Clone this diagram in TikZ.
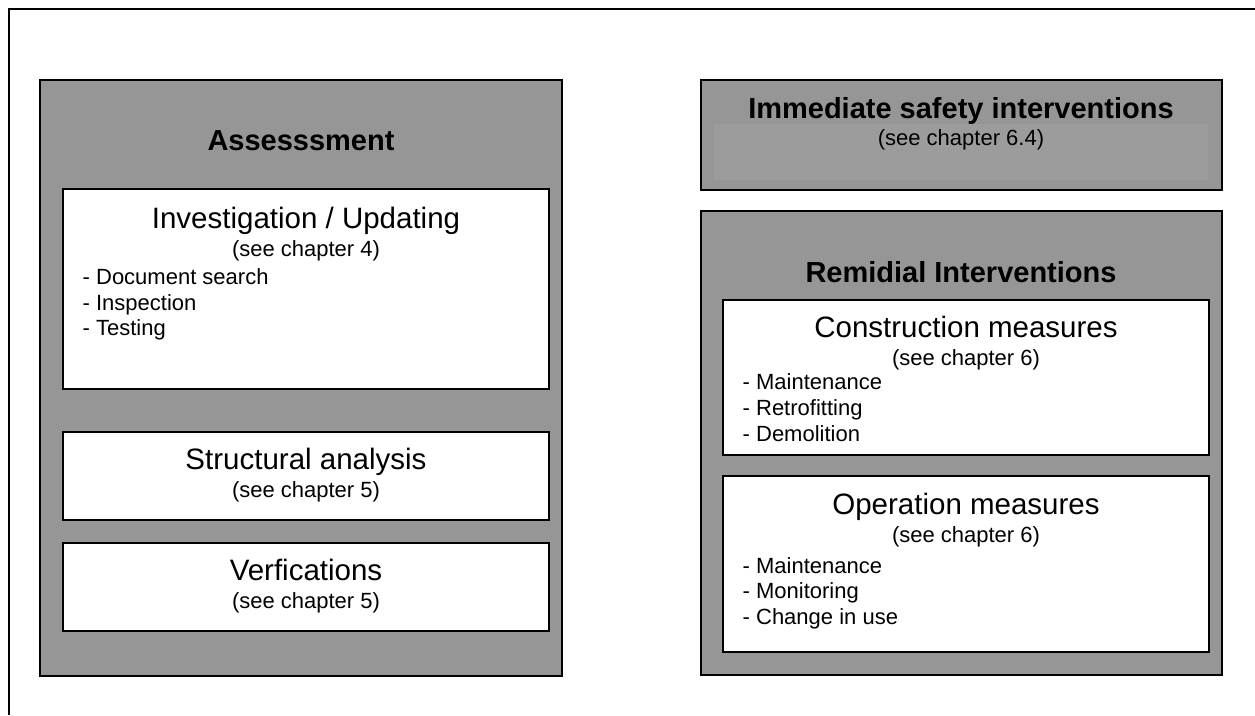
\documentclass[tikz,border=0pt]{standalone}
\usepackage{fontspec}
\setmainfont{Liberation Sans}
\begin{document}
\begin{tikzpicture}[x=1pt,y=-1pt,line width=1.4pt,
  graybox/.style={draw=black,fill=black!41},
  whitebox/.style={draw=black,fill=white},
  head/.style={font=\fontsize{29}{34}\selectfont\bfseries,anchor=base,inner sep=0pt},
  title/.style={font=\fontsize{29.5}{34}\selectfont,anchor=base,inner sep=0pt},
  sub/.style={font=\fontsize{22}{26}\selectfont,anchor=base,inner sep=0pt},
  item/.style={font=\fontsize{22}{26}\selectfont,anchor=base west,inner sep=0pt}]
  \useasboundingbox(0,0)rectangle(1255,715);
  \draw[line width=2.4pt](9,715)--(9,9)--(1255,9);
  % left column
  \coordinate(A1)at(40,80);
  \coordinate(A2)at(562,676);
  \draw[graybox](A1)rectangle(A2);
  \node[head](assess)at(301,150){Assesssment};
  \draw[whitebox](63,189)rectangle(549,389);
  \node[title](inv)at(306,228){Investigation / Updating};
  \node[sub](invsub)at(306,256){(see chapter 4)};
  \node[item](inv1)at(82,284){- Document search};
  \node[item](inv2)at(82,310){- Inspection};
  \node[item](inv3)at(82,335){- Testing};
  \draw[whitebox](63,432)rectangle(549,520);
  \node[title](struct)at(306,469){Structural analysis};
  \node[sub](structsub)at(306,497){(see chapter 5)};
  \draw[whitebox](63,543)rectangle(549,631);
  \node[title](verif)at(306,580){Verfications};
  \node[sub](verifsub)at(306,608){(see chapter 5)};
  % right column
  \coordinate(I1)at(701,80);
  \coordinate(I2)at(1222,190);
  \draw[graybox](I1)rectangle(I2);
  \fill[black!39](714,124)rectangle(1208,180);
  \node[head](immed)at(961,118){Immediate safety interventions};
  \node[sub](immedsub)at(961,145){(see chapter 6.4)};
  \coordinate(R1)at(701,211);
  \coordinate(R2)at(1222,675);
  \draw[graybox](R1)rectangle(R2);
  \node[head](remid)at(961,282){Remidial Interventions};
  \draw[whitebox](723,300)rectangle(1209,455);
  \node[title](constr)at(966,337){Construction measures};
  \node[sub](constrsub)at(966,365){(see chapter 6)};
  \node[item](constr1)at(742,389){- Maintenance};
  \node[item](constr2)at(742,415){- Retrofitting};
  \node[item](constr3)at(742,441){- Demolition};
  \draw[whitebox](723,476)rectangle(1209,652);
  \node[title](oper)at(966,514){Operation measures};
  \node[sub](opersub)at(966,542){(see chapter 6)};
  \node[item](oper1)at(742,573){- Maintenance};
  \node[item](oper2)at(742,598){- Monitoring};
  \node[item](oper3)at(742,624){- Change in use};
\end{tikzpicture}
\end{document}
